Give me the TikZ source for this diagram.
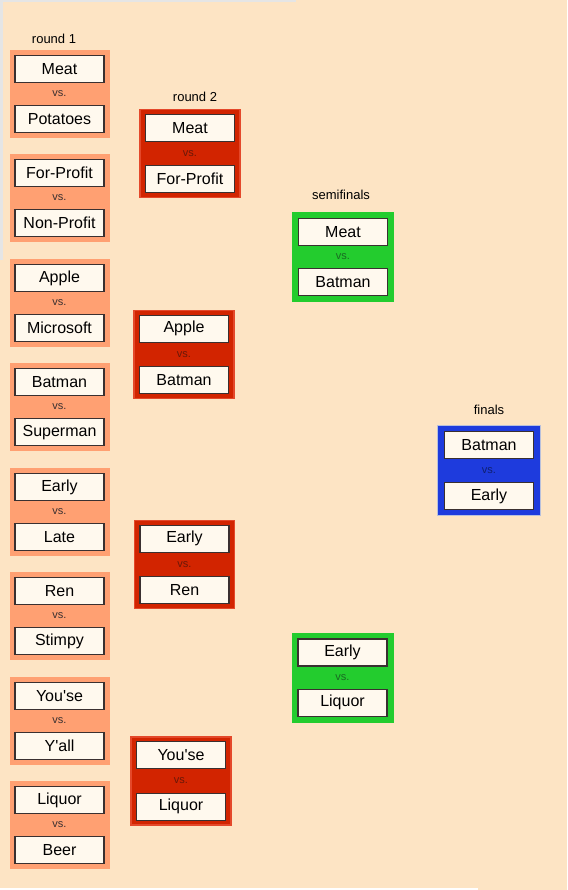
\documentclass[tikz,border=0pt]{standalone}
\usepackage{fontspec}
\setmainfont{Liberation Sans}
\usetikzlibrary{positioning}

\definecolor{peach}{HTML}{FDE4C4}
\definecolor{cream}{HTML}{FFF9EE}
\definecolor{boxline}{HTML}{3A3030}
\definecolor{r1fill}{HTML}{FFA072}
\definecolor{r2fill}{HTML}{D22400}
\definecolor{r2line}{HTML}{E4482A}
\definecolor{semifill}{HTML}{23CC2E}
\definecolor{finfill}{HTML}{1E3BDD}
\definecolor{finline}{HTML}{B8C0DC}
\definecolor{r1vs}{HTML}{3A3030}
\definecolor{r2vs}{HTML}{6A1808}
\definecolor{semivs}{HTML}{1A6A22}
\definecolor{finvs}{HTML}{102070}

\begin{document}
\begin{tikzpicture}[x=1pt, y=-1pt,
    player/.style={draw=boxline, fill=cream, line width=1.2pt, minimum width=89pt,
      minimum height=27pt, inner sep=0pt, font=\fontsize{16}{18}\selectfont},
    vslabel/.style={inner sep=0pt, font=\fontsize{11}{12}\selectfont},
    roundlabel/.style={inner sep=0pt, font=\fontsize{13}{15}\selectfont},
    r1box/.style={fill=r1fill, minimum width=100pt, minimum height=88pt, inner sep=0pt},
    r2box/.style={fill=r2fill, draw=r2line, line width=1.5pt, minimum width=100pt,
      minimum height=88pt, inner sep=0pt},
    semibox/.style={fill=semifill, minimum width=102pt, minimum height=90pt, inner sep=0pt},
    finbox/.style={fill=finfill, draw=finline, line width=1pt, minimum width=103pt,
      minimum height=90pt, inner sep=0pt}]

    % Fondo
    \useasboundingbox (0,0) rectangle (567,890);
    \fill[peach] (0,0) rectangle (567,890);
    \fill[gray!20] (0,0) rectangle (3,260);
    \fill[gray!20] (0,0) rectangle (296,2);
    \fill[white] (0,888) rectangle (478,890);

    % Titulos
    \node[roundlabel] (t1) at (54,39) {round 1};
    \node[roundlabel] (t2) at (195,97) {round 2};
    \node[roundlabel] (t3) at (341,195) {semifinals};
    \node[roundlabel] (t4) at (489,410) {finals};

    % Round 1
    \foreach \n/\y/\a/\b in {1/94/Meat/Potatoes, 2/198/For-Profit/Non-Profit,
        3/303/Apple/Microsoft, 4/407/Batman/Superman, 5/512/Early/Late,
        6/616/Ren/Stimpy, 7/721/You\textquotesingle se/Y\textquotesingle all,
        8/825/Liquor/Beer}{
      \node[r1box] (r1m\n) at (59.5,\y) {};
      \node[player, below=5pt of r1m\n.north] (r1m\n-a) {\a};
      \node[player, above=5pt of r1m\n.south] (r1m\n-b) {\b};
      \node[vslabel, text=r1vs] (r1m\n-v) at (r1m\n) {vs.};
    }

    % Round 2
    \foreach \n/\x/\y/\a/\b in {1/190/153.5/Meat/For-Profit, 2/184/354.5/Apple/Batman,
        3/184.5/564.5/Early/Ren, 4/181/781/You\textquotesingle se/Liquor}{
      \node[r2box] (r2m\n) at (\x,\y) {};
      \node[player, below=5pt of r2m\n.north] (r2m\n-a) {\a};
      \node[player, above=5pt of r2m\n.south] (r2m\n-b) {\b};
      \node[vslabel, text=r2vs] (r2m\n-v) at (r2m\n) {vs.};
    }

    % Semifinals
    \foreach \n/\x/\y/\a/\b in {1/343/257/Meat/Batman, 2/342.5/677.5/Early/Liquor}{
      \node[semibox] (sm\n) at (\x,\y) {};
      \node[player, below=6pt of sm\n.north] (sm\n-a) {\a};
      \node[player, above=6pt of sm\n.south] (sm\n-b) {\b};
      \node[vslabel, text=semivs] (sm\n-v) at (sm\n) {vs.};
    }

    % Finals
    \node[finbox] (fin) at (489,470.5) {};
    \node[player, below=6pt of fin.north] (fin-a) {Batman};
    \node[player, above=6pt of fin.south] (fin-b) {Early};
    \node[vslabel, text=finvs] (fin-v) at (fin) {vs.};

\end{tikzpicture}
\end{document}
